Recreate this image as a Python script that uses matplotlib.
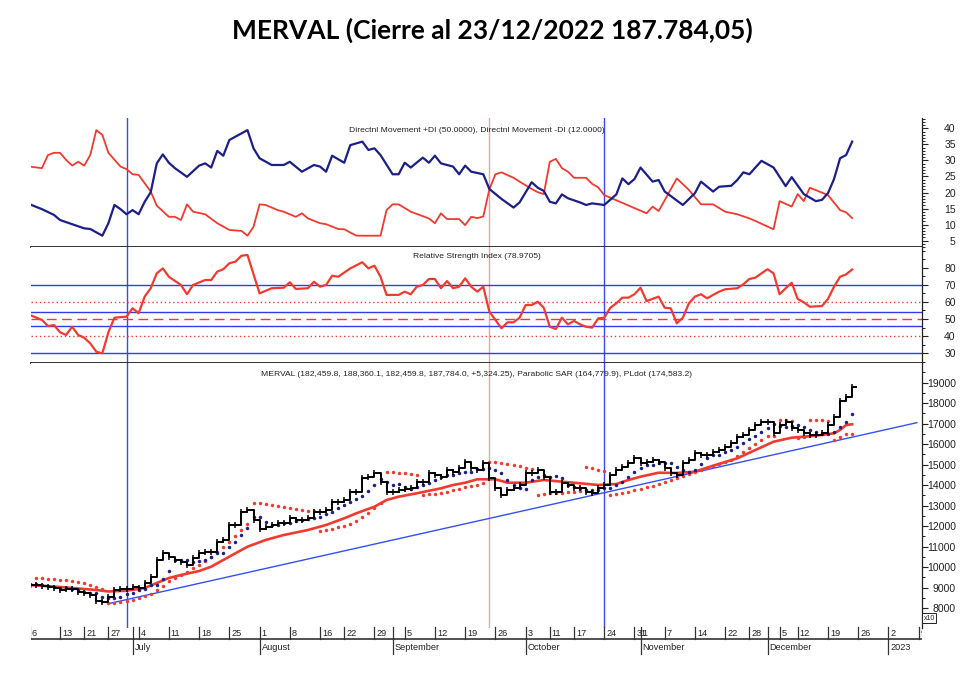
import matplotlib
matplotlib.use("Agg")
import matplotlib.pyplot as plt
from matplotlib.ticker import MultipleLocator
import matplotlib.transforms as mtransforms
import numpy as np

# ---------------- data (trading-day index 0 = 6 Jun 2022 ... 136 = 23 Dec 2022) ----------------
# price panel values are in axis units (x10)
close_x10 = [9132, 9132, 9083, 9034, 8985, 8888, 8936, 8936, 8790, 8741,
             8644, 8351, 8302, 8546, 8888, 8936, 8936, 9034, 8985, 9229,
             9522, 10351, 10693, 10498, 10351, 10254, 10107, 10449, 10693, 10742,
             10742, 11230, 11327, 12059, 12059, 12693, 12790, 12303, 11864, 11961,
             12059, 12157, 12157, 12400, 12303, 12303, 12400, 12693, 12693, 12790,
             13181, 13181, 13278, 13668, 13668, 14351, 14400, 14595, 14156, 13668,
             13668, 13766, 13815, 13864, 14156, 14156, 14595, 14498, 14400, 14742,
             14644, 14839, 15132, 14839, 14742, 15083, 14351, 13864, 13522, 13766,
             13864, 14010, 14595, 14595, 14742, 14400, 13668, 13668, 14107, 14010,
             13864, 13864, 13668, 13619, 13864, 14010, 14498, 14742, 14888, 15083,
             15327, 15083, 15132, 15230, 15132, 14839, 14595, 14498, 15083, 15230,
             15571, 15473, 15473, 15620, 15717, 15863, 16058, 16351, 16449, 16693,
             16937, 17083, 17083, 16546, 16937, 17083, 16790, 16693, 16546, 16449,
             16449, 16546, 16937, 17327, 18107, 18302, 18778.4]

pldot_x10 = [9181, 9181, 9132, 9083, 9034, 8985, 8985, 8936, 8888, 8790,
             8741, 8741, 8546, 8498, 8498, 8546, 8693, 8741, 8888, 8936,
             9132, 9132, 9424, 9815, 10351, 10351, 10351, 10254, 10302, 10351,
             10498, 10693, 10693, 10986, 11230, 11571, 11912, 12449, 12449, 12205,
             12059, 12059, 12157, 12157, 12254, 12303, 12351, 12400, 12449, 12595,
             12693, 12888, 13034, 13181, 13327, 13473, 13717, 14010, 14302, 14156,
             14010, 14058, 13912, 13815, 13912, 14010, 14107, 14254, 14400, 14498,
             14498, 14595, 14644, 14644, 14790, 14790, 14839, 14742, 14595, 14254,
             14010, 13864, 13815, 14254, 14400, 14498, 14400, 14449, 14351, 14010,
             13912, 13864, 13766, 13766, 13766, 13864, 13864, 14010, 14156, 14400,
             14644, 14839, 14985, 14985, 15083, 15083, 15083, 14888, 14742, 14644,
             14742, 15034, 15327, 15473, 15473, 15620, 15717, 15863, 16058, 16254,
             16400, 16595, 16790, 16985, 16888, 16839, 16888, 16937, 16839, 16693,
             16595, 16497, 16497, 16595, 16839, 17083, 17458.3]

sar_x10 = [9083, 9473, 9473, 9424, 9424, 9376, 9376, 9327, 9278, 9229,
           9132, 9034, 8936, 8254, 8254, 8302, 8351, 8400, 8498, 8595,
           8693, 8888, 9083, 9327, 9473, 9620, 9766, 9961, 10107, 10302,
           10498, 10742, 10986, 11230, 11522, 11815, 12108, 13132, 13132, 13083,
           13034, 12985, 12937, 12888, 12839, 12790, 12741, 12741, 11766, 11815,
           11864, 11961, 12010, 12108, 12254, 12449, 12644, 12888, 13132, 14644,
           14644, 14595, 14595, 14546, 14498, 13522, 13571, 13571, 13619, 13668,
           13766, 13815, 13912, 13961, 14010, 14107, 15132, 15132, 15083, 15034,
           14985, 14937, 14839, 14790, 13522, 13571, 13619, 13619, 13619, 13668,
           13668, 13717, 14888, 14839, 14742, 14693, 13522, 13571, 13619, 13668,
           13766, 13815, 13912, 13961, 14058, 14156, 14254, 14351, 14449, 14546,
           14644, 14742, 14839, 14937, 15034, 15132, 15230, 15424, 15620, 15815,
           16010, 16205, 16400, 16400, 17180, 17180, 17132, 16303, 16351, 17180,
           17180, 17180, 17132, 16205, 16351, 16497, 16477.99]

ma_idx = [0, 5, 11, 13, 16, 19, 21, 23, 25, 28, 30, 32, 34, 36, 39, 42, 46, 49, 52, 54,
          57, 59, 61, 64, 68, 70, 72, 74, 77, 79, 82, 85, 88, 91, 94, 97, 99, 101, 104, 107,
          110, 113, 117, 120, 123, 126, 130, 133, 134, 135, 136]
ma_x10 = [9132, 9034, 8888, 8815, 8853, 8985, 9229, 9473, 9620, 9815, 10025, 10351, 10678,
          11000, 11327, 11571, 11815, 12059, 12386, 12630, 12951, 13278, 13439, 13605, 13849,
          14010, 14122, 14288, 14288, 14122, 14122, 14254, 14171, 14093, 14010, 14058, 14254,
          14415, 14610, 14595, 14659, 14951, 15312, 15717, 16122, 16317, 16415, 16532, 16693,
          16937, 16971]

trend_idx = [13.3, 146.7]
trend_x10 = [8240, 17050]

pdi_idx = [0, 2, 4, 5, 7, 9, 10, 12, 13, 14, 15, 16, 17, 18, 19, 20, 21, 22, 23, 24,
           26, 28, 29, 30, 31, 32, 33, 36, 37, 38, 40, 42, 43, 45, 47, 48, 49, 50, 52, 53,
           55, 56, 57, 58, 60, 61, 62, 63, 65, 66, 67, 68, 70, 71, 72, 73, 75, 76, 78, 80,
           81, 83, 84, 85, 86, 87, 88, 89, 91, 92, 93, 95, 97, 98, 99, 100, 101, 103, 104, 105,
           108, 110, 111, 113, 114, 116, 117, 118, 119, 121, 123, 125, 126, 128, 130, 131, 132,
           133, 134, 135, 136]
pdi_val = [16.3, 14.8, 13.0, 11.4, 10.1, 8.8, 8.6, 6.5, 10.4, 16.1, 14.8, 13.2, 14.5, 13.2,
           17.1, 20.1, 29.1, 31.9, 29.3, 27.6, 24.9, 28.4, 29.1, 27.8, 33.0, 31.5, 36.4, 39.5,
           33.8, 30.7, 28.6, 28.6, 29.6, 26.5, 28.6, 28.1, 26.5, 31.5, 29.3, 34.8, 35.9, 33.3,
           33.8, 31.7, 25.7, 25.7, 29.3, 27.8, 30.9, 29.3, 31.5, 29.1, 28.1, 25.7, 28.4, 26.5,
           25.7, 21.1, 18.0, 15.3, 16.9, 23.2, 21.5, 20.5, 17.1, 16.6, 19.4, 18.2, 16.9, 16.1,
           16.6, 16.1, 19.4, 24.4, 22.6, 24.2, 27.8, 23.4, 23.9, 20.3, 16.1, 19.8, 23.4, 20.3,
           21.8, 22.1, 23.9, 26.3, 25.7, 29.9, 27.8, 22.0, 24.8, 19.5, 17.3, 17.7, 19.8, 24.2,
           30.7, 31.7, 35.9]

mdi_idx = [0, 2, 3, 4, 5, 6, 7, 8, 9, 10, 11, 12, 13, 15, 16, 17, 18, 20, 21, 23,
           24, 25, 26, 27, 29, 31, 33, 35, 36, 37, 38, 39, 41, 42, 44, 45, 46, 48, 49, 51,
           52, 54, 58, 59, 60, 61, 63, 66, 67, 68, 69, 71, 72, 73, 74, 75, 76, 77, 78, 80,
           81, 83, 84, 85, 86, 87, 88, 89, 90, 92, 93, 94, 95, 102, 103, 104, 107, 109, 111, 113,
           115, 117, 119, 120, 123, 124, 126, 127, 128, 129, 132, 134, 135, 136]
mdi_val = [28.1, 27.6, 31.7, 32.4, 32.4, 30.2, 28.4, 29.6, 28.4, 31.7, 39.5, 38.0, 32.4, 28.1,
           27.3, 25.7, 25.5, 20.3, 15.9, 12.4, 12.4, 11.4, 16.3, 14.0, 13.2, 10.4, 8.3, 8.0,
           6.5, 9.3, 16.3, 16.1, 14.5, 14.0, 12.4, 13.5, 11.9, 10.4, 10.1, 8.6, 8.5, 6.5, 6.5,
           14.5, 16.3, 16.3, 14.0, 11.9, 10.4, 13.5, 11.7, 11.7, 9.8, 12.4, 12.0, 12.5, 21.0,
           25.7, 26.3, 24.6, 23.4, 21.1, 20.1, 19.5, 29.6, 30.5, 27.6, 26.5, 24.6, 24.6, 22.7,
           21.6, 19.2, 13.5, 15.6, 14.2, 24.4, 20.8, 16.3, 16.3, 14.0, 13.2, 11.9, 11.1, 8.5,
           17.3, 15.6, 19.5, 17.3, 21.5, 19.2, 14.5, 13.8, 12.0]

rsi_idx = [0, 2, 3, 4, 5, 6, 7, 8, 9, 10, 11, 12, 13, 14, 16, 17, 18, 19, 20, 21,
           22, 23, 25, 26, 27, 29, 30, 31, 32, 33, 34, 35, 36, 38, 40, 42, 43, 44, 46, 47,
           48, 49, 50, 51, 53, 55, 56, 57, 58, 59, 61, 62, 63, 64, 65, 66, 67, 68, 69, 70,
           71, 72, 73, 74, 75, 76, 77, 78, 79, 80, 81, 82, 83, 84, 85, 86, 87, 88, 89, 90,
           91, 92, 93, 94, 95, 96, 97, 98, 99, 100, 101, 102, 104, 105, 106, 107, 108, 109, 110, 111,
           112, 113, 114, 115, 117, 118, 119, 120, 121, 122, 123, 124, 125, 126, 127, 128, 129, 131, 132, 133,
           134, 135, 136]
rsi_val = [52.4, 49.5, 45.9, 46.5, 42.3, 40.7, 45.5, 40.7, 39.1, 35.8, 30.9, 30.0, 42.3, 50.8,
           51.4, 56.3, 53.4, 63.1, 68.0, 76.7, 79.6, 74.7, 69.9, 64.5, 69.9, 72.8, 72.8, 77.7,
           79.1, 82.6, 83.5, 87.0, 87.4, 65.0, 68.0, 68.3, 71.5, 67.6, 68.0, 71.8, 68.9, 69.9,
           75.3, 74.7, 79.6, 83.2, 79.6, 81.2, 74.7, 64.1, 64.1, 66.0, 64.5, 68.9, 69.9, 73.4,
           73.4, 68.0, 72.2, 68.0, 68.9, 73.8, 68.9, 66.0, 68.9, 54.3, 49.5, 44.6, 48.1, 48.1,
           50.8, 58.2, 58.2, 60.1, 56.6, 45.5, 44.2, 50.8, 46.9, 48.9, 46.9, 45.5, 45.0, 50.4,
           50.8, 56.6, 59.2, 62.5, 62.5, 64.5, 68.3, 60.5, 63.1, 56.6, 56.3, 47.5, 50.8, 59.2,
           63.1, 64.5, 62.1, 64.1, 66.0, 67.4, 68.0, 70.3, 73.4, 74.2, 76.7, 79.1, 76.7, 64.5,
           68.0, 71.2, 61.7, 59.8, 57.2, 57.6, 61.7, 68.9, 74.7, 76.1, 78.97]

rsi_blue_levels = [70, 54, 46, 30]
rsi_red_dotted = [60, 40]
rsi_red_dashed = [50]

vline_blue_idx = [16, 95]
vline_red_idx = [76]

day_tick_idx = [0, 5, 9, 13, 18, 23, 28, 33, 38, 43, 48, 52, 57, 62, 67, 72, 77, 82, 86, 90,
                95, 100, 101, 105, 110, 115, 119, 124, 127, 132, 137, 142, 147]
day_tick_lbl = ['6', '13', '21', '27', '4', '11', '18', '25', '1', '8', '16', '22', '29', '5',
                '12', '19', '26', '3', '11', '17', '24', '31', '1', '7', '14', '22', '28', '5',
                '12', '19', '26', '2', '9']
plain_tick_idx = [17, 60, 122]
month_tick_idx = [17, 38, 60, 82, 101, 122, 142]
month_tick_lbl = ['July', 'August', 'September', 'October', 'November', 'December', '2023']

title = "MERVAL (Cierre al 23/12/2022 187.784,05)"
di_title = "Directnl Movement +DI (50.0000), Directnl Movement -DI (12.0000)"
rsi_title = "Relative Strength Index (78.9705)"
main_title = ("MERVAL (182,459.8, 188,360.1, 182,459.8, 187,784.0, +5,324.25), "
              "Parabolic SAR (164,779.9), PLdot (174,583.2)")

# ---------------- figure ----------------
W, H = 980, 683
fig = plt.figure(figsize=(W / 100, H / 100), dpi=100)
fig.patch.set_facecolor('white')
NARROW = ['Liberation Sans Narrow', 'Liberation Sans', 'DejaVu Sans']
SANS = ['Liberation Sans', 'DejaVu Sans']


def fax(x0, y0, x1, y1):
    return fig.add_axes([x0 / W, 1 - y1 / H, (x1 - x0) / W, (y1 - y0) / H])


X0, X1 = 31, 921.7
XL = (0.2, 147.5)
ax_di = fax(X0, 118, X1, 247)
ax_rsi = fax(X0, 247, X1, 363)
ax_main = fax(X0, 363, X1, 628)
ax_date = fax(X0, 626, X1, 662)

NAVY = '#1b1f86'
RED = '#f23a2f'
BLUE = '#2f3cf0'
PINK = '#f2a0a0'


def style_panel(ax, top=False, bottom=True):
    ax.set_xlim(*XL)
    ax.set_facecolor('white')
    ax.spines['left'].set_visible(False)
    ax.spines['top'].set_visible(top)
    ax.spines['bottom'].set_visible(bottom)
    for s in ('top', 'bottom'):
        ax.spines[s].set_color('#222222')
        ax.spines[s].set_linewidth(1.3)
    ax.spines['right'].set_color('#222222')
    ax.spines['right'].set_linewidth(0.9)
    ax.set_xticks([])
    ax.yaxis.tick_right()
    ax.tick_params(axis='y', which='major', direction='out', length=4.5, width=0.8,
                   pad=20, labelsize=7.5, colors='#222222')
    ax.tick_params(axis='y', which='minor', direction='out', length=2.2, width=0.7,
                   colors='#222222')


def right_align(ax):
    for lab in ax.get_yticklabels():
        lab.set_horizontalalignment('right')
        lab.set_fontfamily(SANS)


# ---- DI panel ----
style_panel(ax_di)
ax_di.set_ylim(2.97, 43.28)
ax_di.plot(mdi_idx, mdi_val, color=RED, lw=1.3, solid_joinstyle='round')
ax_di.plot(pdi_idx, pdi_val, color=NAVY, lw=1.6, solid_joinstyle='round')
ax_di.set_yticks([5, 10, 15, 20, 25, 30, 35, 40])
ax_di.yaxis.set_minor_locator(MultipleLocator(1))
right_align(ax_di)

# ---- RSI panel ----
style_panel(ax_rsi)
ax_rsi.set_ylim(24.33, 92.09)
for lv in rsi_blue_levels:
    ax_rsi.axhline(lv, color=BLUE, lw=1.0)
for lv in rsi_red_dotted:
    ax_rsi.axhline(lv, color=RED, lw=1.0, ls=(0, (1, 2)))
for lv in rsi_red_dashed:
    ax_rsi.axhline(lv, color=RED, lw=1.0, ls=(0, (7, 4)))
ax_rsi.plot(rsi_idx, rsi_val, color=RED, lw=1.6, solid_joinstyle='round')
ax_rsi.set_yticks([30, 40, 50, 60, 70, 80])
ax_rsi.yaxis.set_minor_locator(MultipleLocator(5))
right_align(ax_rsi)

# ---- price panel ----
style_panel(ax_main, top=False, bottom=False)
ax_main.set_ylim(7034, 19961)
x = np.arange(len(close_x10))
ax_main.plot(trend_idx, trend_x10, color='#3550f5', lw=1.0)
ax_main.plot(ma_idx, ma_x10, color=RED, lw=1.9, solid_joinstyle='round')
ax_main.plot(x, sar_x10, ls='none', marker='o', ms=2.5, color=RED, mew=0)
ax_main.plot(x, pldot_x10, ls='none', marker='o', ms=2.5, color=NAVY, mew=0)
xs = np.append(x, x[-1] + 0.6)
ys = np.append(close_x10, close_x10[-1])
ax_main.plot(xs, ys, drawstyle='steps-post', color='black', lw=1.4)
ax_main.plot(x, close_x10, ls='none', marker='|', ms=5, mew=1.1, color='black')
ax_main.set_yticks(range(8000, 19001, 1000))
ax_main.set_yticklabels([str(v) for v in range(8000, 19001, 1000)])
ax_main.yaxis.set_minor_locator(MultipleLocator(500))
right_align(ax_main)

# vertical marker lines through the three panels
for ax in (ax_di, ax_rsi, ax_main):
    for vi in vline_blue_idx:
        ax.axvline(vi, color='#3a48f5', lw=1.0, zorder=0.5)
    for vi in vline_red_idx:
        ax.axvline(vi, color=PINK, lw=1.0, zorder=0.5)

# ---- date axis ----
ax_date.set_xlim(*XL)
ax_date.set_ylim(662, 626)
ax_date.axis('off')
ax_date.plot(XL, [639.3, 639.3], color='#333333', lw=1.2)
off = mtransforms.offset_copy(ax_date.transData, fig=fig, x=1.4, y=0, units='points')
for i, lbl in zip(day_tick_idx, day_tick_lbl):
    ax_date.plot([i, i], [627, 639.3], color='#333333', lw=0.9)
    ax_date.text(i, 633.3, lbl, transform=off, ha='left', va='center', fontsize=6.6,
                 family=NARROW, color='#222222', clip_on=True)
for i in plain_tick_idx:
    ax_date.plot([i, i], [627, 639.3], color='#333333', lw=0.9)
for i, lbl in zip(month_tick_idx, month_tick_lbl):
    ax_date.plot([i, i], [639.3, 653.5], color='#333333', lw=0.9)
    ax_date.text(i, 648, lbl, transform=off, ha='left', va='center', fontsize=6.6,
                 family=NARROW, color='#222222', clip_on=True)

# ---- texts ----
fig.text(492.5 / W, 1 - 30 / H, title, ha='center', va='center', fontsize=19,
         fontweight='bold', family=['Lato', 'DejaVu Sans'])
fig.text(476.6 / W, 1 - 130 / H, di_title, ha='center', va='center', fontsize=6.1,
         family=NARROW, color='#222222')
fig.text(476.6 / W, 1 - 256 / H, rsi_title, ha='center', va='center', fontsize=6.1,
         family=NARROW, color='#222222')
fig.text(476.6 / W, 1 - 374 / H, main_title, ha='center', va='center', fontsize=6.1,
         family=NARROW, color='#222222')
fig.text(923.5 / W, 1 - 618 / H, 'x10', ha='left', va='center', fontsize=5,
         family=SANS, color='#222222',
         bbox=dict(boxstyle='square,pad=0.15', fc='white', ec='#222222', lw=0.7))

fig.savefig('out.png', dpi=100, facecolor='white')
